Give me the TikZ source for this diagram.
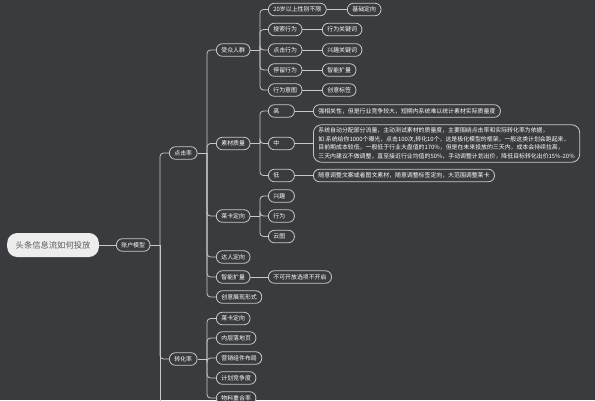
\documentclass[tikz,border=0pt]{standalone}
\usepackage{fontspec}
\setmainfont{Noto Sans CJK SC}
\definecolor{bgc}{HTML}{3A3B3F}
\definecolor{linec}{HTML}{C8C8C8}
\definecolor{rootfill}{HTML}{EDEDED}
\definecolor{roottext}{HTML}{5A5A5A}
\begin{document}
\begin{tikzpicture}[x=1pt,y=-1pt,
  mm/.style={draw=linec, line width=0.8pt, fill=bgc, text=white, rounded corners=6pt,
    minimum height=12.5pt, inner xsep=5pt, inner ysep=1pt, anchor=west,
    font=\fontsize{5.9}{7}\selectfont},
  sm/.style={mm, text width=16pt, align=left},
  bigtext/.style={mm, align=left, rounded corners=8pt, inner ysep=3pt,
    font=\fontsize{5.9}{8.6}\selectfont},
  rootbox/.style={fill=rootfill, text=roottext, rounded corners=10pt, minimum height=24pt,
    inner xsep=8.5pt, anchor=west, font=\fontsize{8.3}{10}\selectfont},
  conn/.style={draw=linec, line width=0.8pt, rounded corners=3.5pt}]
\useasboundingbox (0,0) rectangle (595,400);
\clip (0,0) rectangle (595,400);
\fill[bgc] (0,0) rectangle (595,400);

% nodes
\node[rootbox] (root) at (7,245) {头条信息流如何投放};
\node[mm] (zh) at (116,245) {账户模型};
\node[mm] (djl) at (169,153) {点击率};
\node[mm] (zhl) at (169,359) {转化率};

\node[mm] (szrq) at (216,50) {受众人群};
\node[mm] (sczl) at (216,143.5) {素材质量};
\node[mm] (lkdx) at (216,216) {莱卡定向};
\node[mm] (drdx) at (216,257) {达人定向};
\node[mm] (znkl) at (216,277) {智能扩量};
\node[mm] (cyzx) at (216,297) {创意展现形式};

\node[mm] (lkdx2) at (216,318.5) {莱卡定向};
\node[mm] (ncld) at (216,338) {内层落地页};
\node[mm] (yxzj) at (216,358) {营销组件布局};
\node[mm] (jhjz) at (216,378) {计划竞争度};
\node[mm] (wlch) at (216,398) {物料重合率};

\node[mm] (a20) at (268,9.5) {20岁以上性别不限};
\node[mm] (ssxw) at (268,29.5) {搜索行为};
\node[mm] (djxw) at (268,50) {点击行为};
\node[mm] (tlxw) at (268,70) {停留行为};
\node[mm] (xwyt) at (268,90) {行为意图};
\node[mm] (jcdx) at (347,9.5) {基础定向};
\node[mm] (xwgj) at (322,29.5) {行为关键词};
\node[mm] (xqgj) at (322,50) {兴趣关键词};
\node[mm] (znkl2) at (322,70) {智能扩量};
\node[mm] (cybq) at (322,90) {创意标签};

\node[sm] (gao) at (268,111) {高};
\node[sm] (zhong) at (268,143.5) {中};
\node[sm] (di) at (268,175.5) {低};
\node[mm] (gaot) at (313,111) {强相关性，但是行业竞争较大，短期内系统难以统计素材实际质量度};
\node[bigtext] (zhongt) at (313,143.5) {系统自动分配部分流量，主动测试素材的质量度，主要围绕点击率和实际转化率为依据，\\如:系统给你1000个曝光，点击100次,转化10个，这是极化模型的框架，一般这类计划会跑起来，\\目前期成本较低，一般低于行业大盘值的170\%，但是在未来投放的三天内，成本会持续拉高，\\三天内建议不做调整，直至接近行业均值的50\%，手动调整计划出价，降低目标转化出价15\%-20\%};
\node[mm] (dit) at (313,175.5) {随意调整文案或者图文素材，随意调整标签定向，大范围调整莱卡};

\node[sm] (xq) at (268,196) {兴趣};
\node[sm] (xw) at (268,216) {行为};
\node[sm] (yt) at (268,236.5) {云图};
\node[mm] (bkkf) at (268,277) {不可开放选项不开启};

% spine coordinates
\coordinate (sA) at (160,245);
\coordinate (aEnd) at (160,410);
\coordinate (sB) at (207,153);
\coordinate (sC) at (207,359);
\coordinate (sD) at (260,50);
\coordinate (sE) at (260,143.5);
\coordinate (sF) at (260,216);

% connectors
\draw[conn] (root.east) -- (zh.west);
\draw[conn] (zh.east) -- (sA);
\draw[conn] (sA) |- (djl.west);
\draw[conn] (sA) |- (zhl.west);
\draw[conn] (sA) -- (aEnd);

\draw[conn] (djl.east) -- (sB);
\foreach \c in {szrq,sczl,lkdx,drdx,znkl,cyzx} \draw[conn] (sB) |- (\c.west);

\draw[conn] (zhl.east) -- (sC);
\foreach \c in {lkdx2,ncld,yxzj,jhjz,wlch} \draw[conn] (sC) |- (\c.west);

\draw[conn] (szrq.east) -- (sD);
\foreach \c in {a20,ssxw,djxw,tlxw,xwyt} \draw[conn] (sD) |- (\c.west);
\draw[conn] (a20.east) -- (jcdx.west);
\draw[conn] (ssxw.east) -- (xwgj.west);
\draw[conn] (djxw.east) -- (xqgj.west);
\draw[conn] (tlxw.east) -- (znkl2.west);
\draw[conn] (xwyt.east) -- (cybq.west);

\draw[conn] (sczl.east) -- (sE);
\foreach \c in {gao,zhong,di} \draw[conn] (sE) |- (\c.west);
\draw[conn] (gao.east) -- (gaot.west);
\draw[conn] (zhong.east) -- (zhongt.west);
\draw[conn] (di.east) -- (dit.west);

\draw[conn] (lkdx.east) -- (sF);
\foreach \c in {xq,xw,yt} \draw[conn] (sF) |- (\c.west);
\draw[conn] (znkl.east) -- (bkkf.west);
\end{tikzpicture}
\end{document}
